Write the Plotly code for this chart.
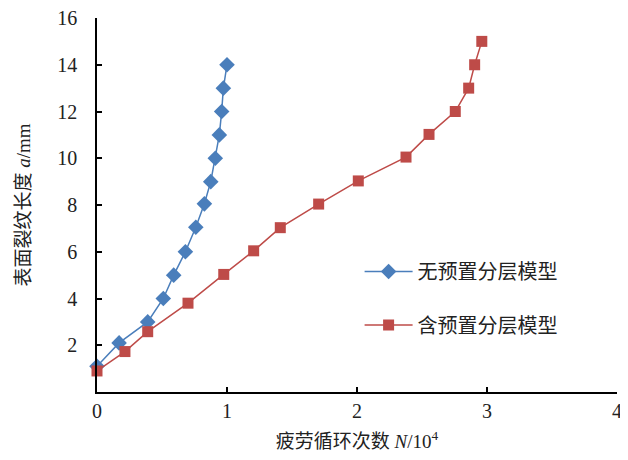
import plotly.graph_objects as go

# Series: 无预置分层模型 (without pre-set layering)
n_plain = [0.0, 0.17, 0.39, 0.51, 0.59, 0.68, 0.76, 0.826, 0.875, 0.91, 0.941, 0.959, 0.972, 1.0]
a_plain = [1.1, 2.1, 3.0, 4.0, 5.0, 6.0, 7.05, 8.05, 9.0, 10.0, 11.0, 12.0, 13.0, 14.0]

# Series: 含预置分层模型 (with pre-set layering)
n_layer = [0.0, 0.215, 0.39, 0.70, 0.975, 1.205, 1.41, 1.705, 2.01, 2.377, 2.554, 2.756, 2.859, 2.905, 2.96]
a_layer = [0.9, 1.73, 2.58, 3.8, 5.03, 6.04, 7.03, 8.04, 9.03, 10.05, 11.02, 12.0, 13.0, 14.0, 15.0]

name_plain = "无预置分层模型"
name_layer = "含预置分层模型"

x_ticks = [0, 1, 2, 3, 4]
y_ticks = [2, 4, 6, 8, 10, 12, 14, 16]

x_title = "疲劳循环次数 <i>N</i>/10<sup>4</sup>"
y_title = "表面裂纹长度 <i>a</i>/mm"

BLUE = "#4A7EBB"
RED = "#BE4B48"
FONT = "Liberation Serif, Noto Sans CJK SC, serif"

fig = go.Figure()
fig.add_trace(go.Scatter(
    x=n_plain, y=a_plain, name=name_plain, mode="lines+markers",
    line=dict(color=BLUE, width=1.5),
    marker=dict(symbol="diamond", size=12, color=BLUE),
    cliponaxis=False, legend="legend", showlegend=True,
))
fig.add_trace(go.Scatter(
    x=n_layer, y=a_layer, name=name_layer, mode="lines+markers",
    line=dict(color=RED, width=1.5),
    marker=dict(symbol="square", size=11, color=RED),
    cliponaxis=False, legend="legend2", showlegend=True,
))

axis_common = dict(
    showline=True, linecolor="#000", linewidth=1.5,
    ticks="inside", ticklen=5, tickwidth=1.5, tickcolor="#000",
    showgrid=False, zeroline=False, automargin=False,
    ticklabeloverflow="allow",
    tickfont=dict(family=FONT, size=20, color="#222"),
)

legend_font = dict(family=FONT, size=20, color="#222")

fig.update_layout(
    width=628, height=460,
    margin=dict(l=89, r=19, t=10, b=76),
    paper_bgcolor="white", plot_bgcolor="white",
    showlegend=True,
    font=dict(family=FONT, color="#222"),
    xaxis=dict(range=[0, 4], tickvals=x_ticks, ticklabelstandoff=0,
               title=dict(text=x_title, font=dict(family=FONT, size=19, color="#222"), standoff=14),
               **axis_common),
    yaxis=dict(range=[0, 16], tickvals=y_ticks, ticklabelstandoff=14,
               title=dict(text=y_title, font=dict(family=FONT, size=19, color="#222"), standoff=22),
               **axis_common),
    legend=dict(x=0.505, y=0.322, xanchor="left", yanchor="middle", itemwidth=48,
                font=legend_font, bgcolor="rgba(0,0,0,0)"),
    legend2=dict(x=0.505, y=0.179, xanchor="left", yanchor="middle", itemwidth=48,
                 font=legend_font, bgcolor="rgba(0,0,0,0)"),
)

fig.write_html("out.html")
